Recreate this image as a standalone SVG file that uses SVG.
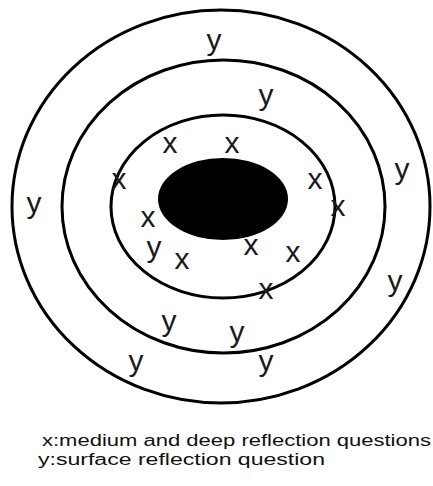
<svg xmlns="http://www.w3.org/2000/svg" width="433" height="486" viewBox="0 0 433 486">
<style>
.ring{fill:none;stroke:#000;stroke-width:3}
.lbl{font-family:"Liberation Sans",Arial,sans-serif;font-size:30px;fill:#1a1a1a;text-anchor:middle}
.leg{font-family:"Liberation Sans",Arial,sans-serif;font-size:16px;fill:#111}
</style>
<rect width="433" height="486" fill="#fff"/>
<g id="outer-ring"><ellipse class="ring" cx="221" cy="206.5" rx="209" ry="196.5"/></g>
<g id="middle-ring"><ellipse class="ring" cx="223.5" cy="206.5" rx="161.5" ry="146.5"/></g>
<g id="inner-ring"><ellipse class="ring" cx="223" cy="206.5" rx="112" ry="91.5"/></g>
<g id="core"><ellipse cx="223" cy="199" rx="65" ry="41" fill="#000"/></g>
<g id="connectors"></g>
<g id="labels-x">
<text class="lbl" x="170" y="153">x</text>
<text class="lbl" x="232" y="153">x</text>
<text class="lbl" x="119" y="189">x</text>
<text class="lbl" x="315" y="189">x</text>
<text class="lbl" x="338" y="216">x</text>
<text class="lbl" x="148" y="227">x</text>
<text class="lbl" x="182" y="269">x</text>
<text class="lbl" x="251" y="255">x</text>
<text class="lbl" x="293" y="262">x</text>
<text class="lbl" x="266" y="299">x</text>
</g>
<g id="labels-y">
<text class="lbl" x="214" y="50">y</text>
<text class="lbl" x="266" y="105">y</text>
<text class="lbl" x="34" y="213">y</text>
<text class="lbl" x="402" y="179">y</text>
<text class="lbl" x="154" y="257">y</text>
<text class="lbl" x="395" y="291">y</text>
<text class="lbl" x="169" y="331">y</text>
<text class="lbl" x="237" y="342">y</text>
<text class="lbl" x="136" y="371">y</text>
<text class="lbl" x="266" y="371">y</text>
</g>
<g id="legend">
<text class="leg" x="42" y="446" textLength="389" lengthAdjust="spacingAndGlyphs">x:medium and deep reflection questions</text>
<text class="leg" x="38" y="465" textLength="287" lengthAdjust="spacingAndGlyphs">y:surface reflection question</text>
</g>
</svg>
